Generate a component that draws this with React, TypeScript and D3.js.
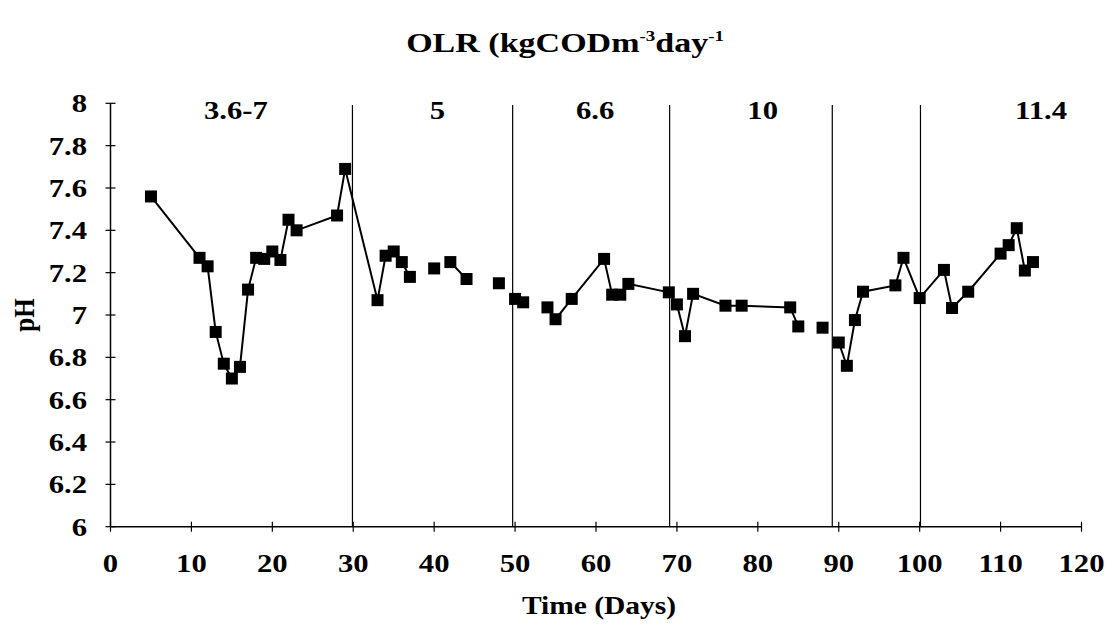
import React from "react";
import * as d3 from "d3";

const days = [5, 11, 12, 13, 14, 15, 16, 17, 18, 19, 20, 21, 22, 23, 28, 29, 33, 34, 35, 36, 37, 40, 42, 44, 48, 50, 51, 54, 55, 57, 61, 62, 63, 64, 69, 70, 71, 72, 76, 78, 84, 85, 88, 90, 91, 92, 93, 97, 98, 100, 103, 104, 106, 110, 111, 112, 113, 114];
const ph = [7.56, 7.27, 7.23, 6.92, 6.77, 6.7, 6.755, 7.12, 7.27, 7.265, 7.3, 7.26, 7.45, 7.4, 7.47, 7.69, 7.07, 7.28, 7.3, 7.25, 7.18, 7.22, 7.25, 7.17, 7.15, 7.076, 7.06, 7.036, 6.98, 7.076, 7.265, 7.096, 7.096, 7.147, 7.107, 7.05, 6.9, 7.1, 7.044, 7.044, 7.036, 6.946, 6.94, 6.87, 6.76, 6.976, 7.11, 7.14, 7.27, 7.08, 7.213, 7.033, 7.11, 7.29, 7.33, 7.41, 7.21, 7.25];
// connected runs of points [startIndex, endIndex]
const runs: [number, number][] = [[0, 20], [21, 21], [22, 23], [24, 24], [25, 26], [27, 41], [42, 42], [43, 57]];
const phaseLines = [29.9, 49.7, 69.1, 89.2, 100.1];
const phaseLabels = ["3.6-7", "5", "6.6", "10", "11.4"];
const phaseLabelX = [15.5, 40.4, 59.9, 80.6, 115];
const xTicks = [0, 10, 20, 30, 40, 50, 60, 70, 80, 90, 100, 110, 120];
const yTicks = [6, 6.2, 6.4, 6.6, 6.8, 7, 7.2, 7.4, 7.6, 7.8, 8];

const SX = 1.18;

function T({ x, y, anchor = "middle", size = 26, sx = SX, children }: any) {
  return (
    <text transform={`translate(${x},${y}) scale(${sx},1)`} textAnchor={anchor} fontSize={size}>
      {children}
    </text>
  );
}

export default function App() {
  const x = d3.scaleLinear().domain([0, 120]).range([110.5, 1081.5]);
  const y = d3.scaleLinear().domain([6, 8]).range([526.7, 103.3]);
  const pts = days.map((d, i) => [d, ph[i]] as [number, number]);
  const line = d3.line<[number, number]>().x((p) => x(p[0])).y((p) => y(p[1]));
  const font = "Liberation Serif, DejaVu Serif, serif";
  const ms = 12;
  return (
    <svg width={1108} height={626} style={{ position: "absolute", left: 0, top: 0, background: "#fff", fontFamily: font, fontWeight: 700 }}>
      <rect width={1108} height={626} fill="#fff" />
      <T x={565} y={52} size={27} sx={1.26}>
        OLR (kgCODm<tspan fontSize={15} dy={-11}>-3</tspan><tspan dy={11}>day</tspan><tspan fontSize={15} dy={-11}>-1</tspan>
      </T>
      {/* axes */}
      <line x1={x(0)} x2={x(0)} y1={y(6)} y2={y(8)} stroke="#000" strokeWidth={1.5} />
      <line x1={x(0)} x2={x(120)} y1={y(6)} y2={y(6)} stroke="#000" strokeWidth={1.5} />
      {yTicks.map((t) => (
        <g key={"y" + t}>
          <line x1={x(0) - 5} x2={x(0) + 5} y1={y(t)} y2={y(t)} stroke="#000" strokeWidth={1.2} />
          <T x={87} y={y(t) + 9} anchor="end">{t}</T>
        </g>
      ))}
      {xTicks.map((t) => (
        <g key={"x" + t}>
          <line x1={x(t)} x2={x(t)} y1={y(6) - 5} y2={y(6) + 5} stroke="#000" strokeWidth={1.2} />
          <T x={x(t)} y={572}>{t}</T>
        </g>
      ))}
      <T x={599} y={614} size={25}>Time (Days)</T>
      <text transform={`translate(34,${y(7)}) rotate(-90) scale(1,${SX})`} textAnchor="middle" fontSize={25}>pH</text>
      {/* phase lines */}
      {phaseLines.map((d) => (
        <line key={"p" + d} x1={x(d)} x2={x(d)} y1={105} y2={y(6)} stroke="#000" strokeWidth={1.2} />
      ))}
      {phaseLabels.map((l, i) => (
        <T key={"l" + i} x={x(phaseLabelX[i])} y={119}>{l}</T>
      ))}
      {/* data */}
      {runs.map(([a, b], i) => (
        <path key={"r" + i} d={line(pts.slice(a, b + 1)) || ""} fill="none" stroke="#000" strokeWidth={2} />
      ))}
      {pts.map((p, i) => (
        <rect key={"m" + i} x={x(p[0]) - ms / 2} y={y(p[1]) - ms / 2} width={ms} height={ms} fill="#000" />
      ))}
    </svg>
  );
}
